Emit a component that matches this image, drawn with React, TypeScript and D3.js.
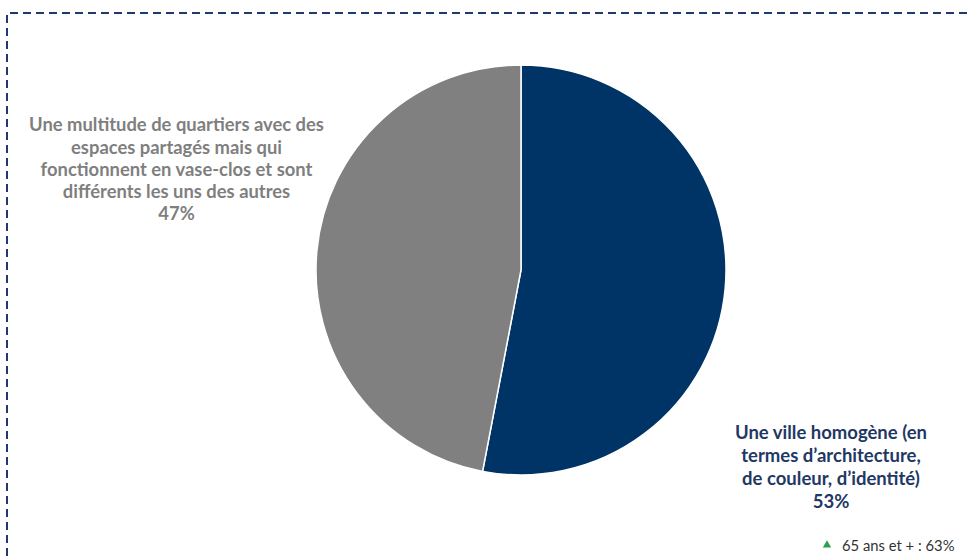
import React from "react";
import * as d3 from "d3";

const categories = [
  "Une ville homogène (en termes d’architecture, de couleur, d’identité)",
  "Une multitude de quartiers avec des espaces partagés mais qui fonctionnent en vase-clos et sont différents les uns des autres",
];
const values = [53, 47];
const colors = ["#003366", "#808080"];
const labelLinesRight = ["Une ville homogène (en", "termes d’architecture,", "de couleur, d’identité)", "53%"];
const labelLinesLeft = [
  "Une multitude de quartiers avec des",
  "espaces partagés mais qui",
  "fonctionnent en vase-clos et sont",
  "différents les uns des autres",
  "47%",
];
const noteText = "65 ans et + : 63%";

export default function App() {
  const W = 968, H = 556;
  const cx = 521, cy = 270, r = 205;
  const pie = d3.pie<number>().sort(null).value((d) => d);
  const arcs = pie(values);
  const arc = d3.arc<d3.PieArcDatum<number>>().innerRadius(0).outerRadius(r);
  const font = "Lato, 'Open Sans', sans-serif";
  return (
    <svg width={W} height={H} style={{ position: "absolute", left: 0, top: 0, background: "#fff" }}>
      <path d={`M7,${H} L7,13 L${W},13`} fill="none" stroke="#1f3a6e" strokeWidth={2} strokeDasharray="8 5" />
      <g transform={`translate(${cx},${cy})`}>
        {arcs.map((a, i) => (
          <path key={categories[i]} d={arc(a) || ""} fill={colors[i]} stroke="#fff" strokeWidth={1.5} />
        ))}
      </g>
      <g fontFamily={font} fontWeight="bold" textAnchor="middle">
        {labelLinesLeft.map((t, i) => (
          <text key={t} x={176.5} y={125 + i * 22.2} dy="0.35em" fontSize={18.4} fill="#7f7f7f">{t}</text>
        ))}
        {labelLinesRight.map((t, i) => (
          <text key={t} x={831} y={433 + i * 23} dy="0.35em" fontSize={18.5} fill="#1f3864">{t}</text>
        ))}
      </g>
      <path d={d3.symbol(d3.symbolTriangle, 30)() || ""} transform="translate(827,545)" fill="#2e9e4f" />
      <text x={842} y={546} dy="0.35em" fontFamily={font} fontSize={14.8} fill="#333">{noteText}</text>
    </svg>
  );
}
